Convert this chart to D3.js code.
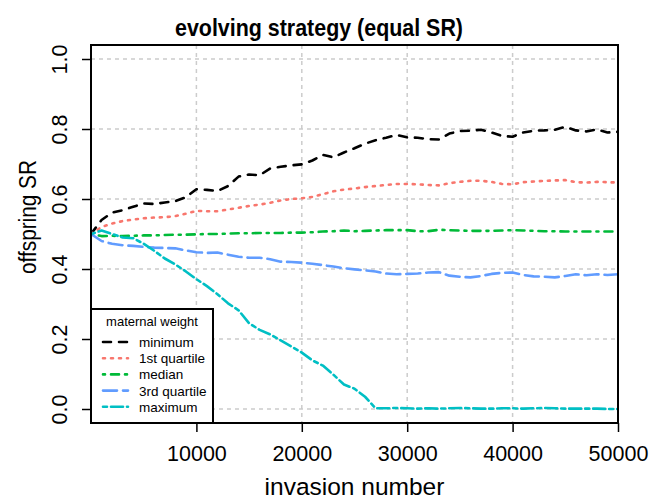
<!DOCTYPE html>
<html lang="en">
<head>
    <meta charset="UTF-8">
    <title>evolving strategy (equal SR)</title>
    <script src="https://d3js.org/d3.v7.min.js"></script>
    <style>
        body { margin: 0; background: #fff; }
        svg text { font-family: "Liberation Sans", Arial, sans-serif; fill: #000; }
        .grid line { stroke: #cccccc; stroke-width: 1.5px; stroke-dasharray: 4,4; }
        .series { fill: none; stroke-width: 2.6px; stroke-linecap: round; stroke-linejoin: round; }
    </style>
</head>
<body>
    <svg width="651" height="500"></svg>
    <script>
        // invasion number (x) and the five maternal-weight series
        const invasions = [0, 1000, 2000, 3000, 4000, 5000, 6000, 7000, 8000, 9000,
            10000, 11000, 12000, 13000, 14000, 15000, 16000, 17000, 18000, 19000,
            20000, 21000, 22000, 23000, 24000, 25000, 26000, 27000, 28000, 29000,
            30000, 31000, 32000, 33000, 34000, 35000, 36000, 37000, 38000, 39000,
            40000, 41000, 42000, 43000, 44000, 45000, 46000, 47000, 48000, 49000, 50000];

        const minimum = [0.500, 0.540, 0.561, 0.568, 0.578, 0.587, 0.586, 0.590, 0.594, 0.605,
            0.628, 0.626, 0.623, 0.637, 0.664, 0.670, 0.668, 0.687, 0.692, 0.696,
            0.699, 0.710, 0.726, 0.719, 0.733, 0.745, 0.758, 0.768, 0.775, 0.783,
            0.776, 0.775, 0.771, 0.770, 0.787, 0.794, 0.795, 0.798, 0.790, 0.780,
            0.778, 0.790, 0.795, 0.796, 0.798, 0.806, 0.796, 0.793, 0.799, 0.790, 0.792];

        const quartile1 = [0.500, 0.520, 0.530, 0.537, 0.541, 0.545, 0.547, 0.548, 0.551, 0.558,
            0.566, 0.565, 0.565, 0.570, 0.575, 0.580, 0.584, 0.589, 0.596, 0.600,
            0.602, 0.606, 0.614, 0.622, 0.627, 0.630, 0.634, 0.637, 0.640, 0.643,
            0.643, 0.642, 0.640, 0.639, 0.645, 0.649, 0.652, 0.652, 0.649, 0.643,
            0.642, 0.648, 0.650, 0.652, 0.653, 0.654, 0.648, 0.647, 0.649, 0.648, 0.647];

        const median = [0.500, 0.494, 0.495, 0.494, 0.495, 0.496, 0.496, 0.497, 0.498, 0.498,
            0.499, 0.500, 0.500, 0.501, 0.502, 0.502, 0.503, 0.503, 0.503, 0.504,
            0.504, 0.505, 0.507, 0.508, 0.510, 0.508, 0.509, 0.510, 0.511, 0.511,
            0.511, 0.508, 0.508, 0.512, 0.511, 0.510, 0.509, 0.509, 0.509, 0.510,
            0.511, 0.510, 0.509, 0.508, 0.508, 0.507, 0.507, 0.507, 0.507, 0.507, 0.507];

        const quartile3 = [0.500, 0.480, 0.472, 0.468, 0.466, 0.463, 0.461, 0.460, 0.459, 0.453,
            0.448, 0.446, 0.447, 0.441, 0.435, 0.432, 0.432, 0.428, 0.421, 0.420,
            0.418, 0.415, 0.411, 0.407, 0.402, 0.399, 0.396, 0.393, 0.387, 0.385,
            0.386, 0.387, 0.390, 0.391, 0.381, 0.378, 0.376, 0.380, 0.386, 0.389,
            0.390, 0.383, 0.379, 0.378, 0.376, 0.380, 0.385, 0.382, 0.385, 0.383, 0.385];

        const maximum = [0.500, 0.510, 0.500, 0.490, 0.488, 0.472, 0.452, 0.430, 0.413, 0.393,
            0.371, 0.351, 0.328, 0.302, 0.282, 0.245, 0.226, 0.213, 0.196, 0.179,
            0.161, 0.139, 0.124, 0.098, 0.070, 0.058, 0.035, 0.002, 0.002, 0.003,
            0.002, 0.001, 0.002, 0.001, 0.002, 0.003, 0.002, 0.001, 0.001, 0.002,
            0.002, 0.001, 0.002, 0.003, 0.002, 0.001, 0.001, 0.001, 0.001, 0.000, 0.000];

        const seriesNames = ["minimum", "1st quartile", "median", "3rd quartile", "maximum"];
        const seriesValues = [minimum, quartile1, median, quartile3, maximum];
        const colors = ["#000000", "#F8766D", "#00BA38", "#619CFF", "#00BFC4"];
        const dashes = ["8,8", "2,6", "2,6,8,6", "14,6", "4,4,12,4"]; // R lty 2..6 at lwd 2

        const xTicks = [10000, 20000, 30000, 40000, 50000];
        const yTicks = [0, 0.2, 0.4, 0.6, 0.8, 1.0];

        const plotLeft = 91, plotRight = 618, plotTop = 45, plotBottom = 423;
        const svg = d3.select("svg");

        const x = d3.scaleLinear().domain([0, 50000]).range([plotLeft, plotRight]);
        const y = d3.scaleLinear().domain([-0.04, 1.04]).range([plotBottom, plotTop]);

        // grid
        const grid = svg.append("g").attr("class", "grid");
        grid.selectAll(".gx").data(xTicks).enter().append("line")
            .attr("x1", d => x(d)).attr("x2", d => x(d))
            .attr("y1", plotTop).attr("y2", plotBottom);
        grid.selectAll(".gy").data(yTicks).enter().append("line")
            .attr("x1", plotLeft).attr("x2", plotRight)
            .attr("y1", d => y(d)).attr("y2", d => y(d));

        svg.append("clipPath").attr("id", "plotclip")
            .append("rect").attr("x", plotLeft).attr("y", plotTop)
            .attr("width", plotRight - plotLeft).attr("height", plotBottom - plotTop);

        const line = d3.line()
            .x((d, i) => x(invasions[i]))
            .y(d => y(d));

        svg.append("g").attr("clip-path", "url(#plotclip)")
            .selectAll(".series")
            .data(seriesValues)
            .enter()
            .append("path")
            .attr("class", "series")
            .attr("stroke", (d, i) => colors[i])
            .attr("stroke-dasharray", (d, i) => dashes[i])
            .attr("d", line);

        // axes (R style: ticks outside, no axis line, box drawn separately)
        const xAxis = svg.append("g")
            .attr("transform", `translate(0,${plotBottom})`)
            .call(d3.axisBottom(x).tickValues(xTicks).tickSize(9).tickPadding(14).tickFormat(d3.format("d")));
        xAxis.select(".domain").remove();
        xAxis.selectAll(".tick line").attr("stroke", "#000").attr("stroke-width", 1.5);
        xAxis.selectAll("text").attr("font-size", 21.5).attr("font-family", null);

        const yAxis = svg.append("g")
            .attr("transform", `translate(${plotLeft},0)`)
            .call(d3.axisLeft(y).tickValues(yTicks).tickSize(9).tickFormat(d3.format(".1f")));
        yAxis.select(".domain").remove();
        yAxis.selectAll(".tick line").attr("stroke", "#000").attr("stroke-width", 1.5);
        yAxis.selectAll("text")
            .attr("font-size", 21.5).attr("font-family", null)
            .attr("x", null).attr("dy", null)
            .attr("text-anchor", "middle")
            .attr("transform", "translate(-24,0) rotate(-90)");

        svg.append("rect")
            .attr("x", plotLeft).attr("y", plotTop)
            .attr("width", plotRight - plotLeft).attr("height", plotBottom - plotTop)
            .attr("fill", "none").attr("stroke", "#000").attr("stroke-width", 2);

        // titles
        svg.append("text").attr("x", 319).attr("y", 36)
            .attr("text-anchor", "middle").attr("font-size", 24).attr("font-weight", "bold")
            .attr("textLength", 288).attr("lengthAdjust", "spacingAndGlyphs")
            .text("evolving strategy (equal SR)");
        svg.append("text").attr("x", (plotLeft + plotRight) / 2).attr("y", 495)
            .attr("text-anchor", "middle").attr("font-size", 24.5)
            .text("invasion number");
        svg.append("text").attr("transform", "translate(36,217) rotate(-90)")
            .attr("text-anchor", "middle").attr("font-size", 23)
            .attr("textLength", 114).attr("lengthAdjust", "spacingAndGlyphs")
            .text("offspring SR");

        // legend
        const lg = svg.append("g");
        lg.append("rect").attr("x", plotLeft).attr("y", 309).attr("width", 122).attr("height", plotBottom - 309)
            .attr("fill", "#fff").attr("stroke", "#000").attr("stroke-width", 2);
        lg.append("text").attr("x", 152).attr("y", 326).attr("text-anchor", "middle")
            .attr("font-size", 13).text("maternal weight");
        const item = lg.selectAll(".item").data(seriesNames).enter().append("g")
            .attr("transform", (d, i) => `translate(0,${342 + i * 16.2})`);
        item.append("line").attr("x1", 103).attr("x2", 128).attr("y1", 0).attr("y2", 0)
            .attr("class", "series")
            .attr("stroke", (d, i) => colors[i])
            .attr("stroke-dasharray", (d, i) => dashes[i]);
        item.append("text").attr("x", 139).attr("y", 5).attr("font-size", 13.5).text(d => d);
    </script>
</body>
</html>
